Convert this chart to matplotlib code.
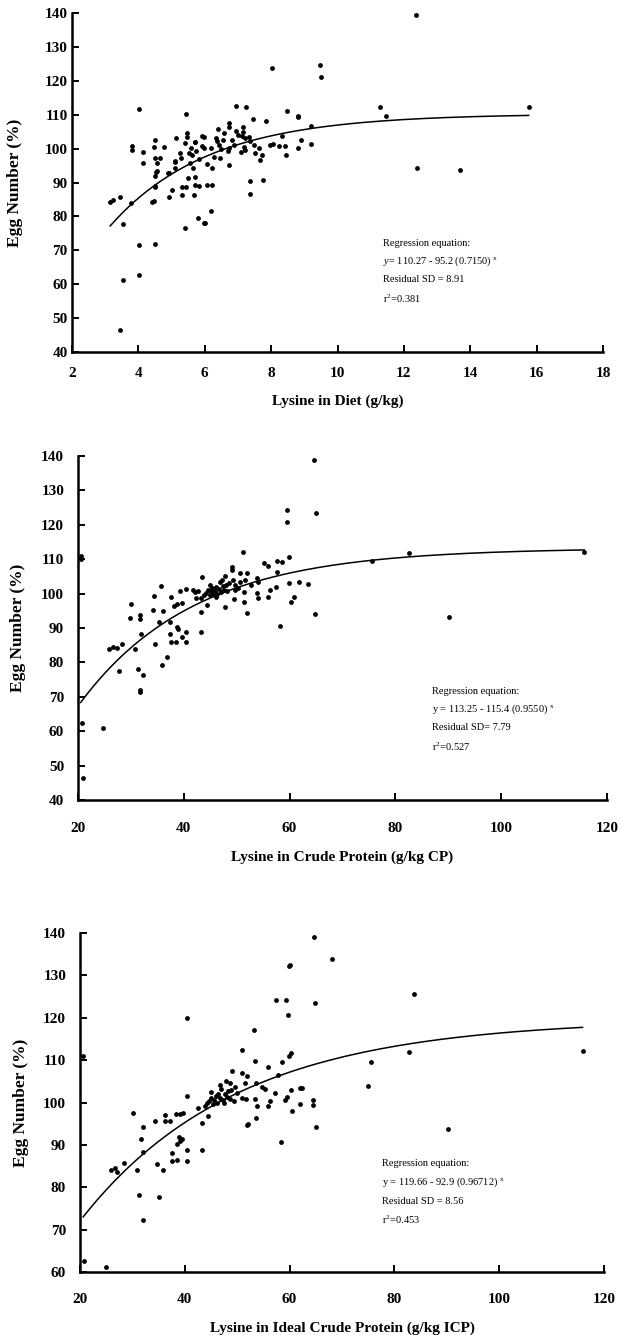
import numpy as np
import matplotlib
matplotlib.use("Agg")
import matplotlib.pyplot as plt

plt.rcParams['font.family'] = ['Liberation Serif', 'DejaVu Serif']
plt.rcParams['mathtext.fontset'] = 'custom'
plt.rcParams['mathtext.rm'] = 'Liberation Serif'
plt.rcParams['mathtext.it'] = 'Liberation Serif:italic'

# lysine in diet (g/kg) vs egg number (%)
diet_pts = np.array([
    (3.15, 84.3), (3.25, 84.8), (3.46, 85.8), (3.53, 77.7), (3.53, 61.2), (3.44, 46.4),
    (3.78, 84.1), (3.82, 100.8), (3.82, 99.6), (4.02, 111.6), (4.15, 98.9), (4.15, 95.7),
    (4.03, 71.5), (4.03, 62.7), (4.41, 84.3), (4.50, 102.6), (4.47, 100.6), (4.50, 97.1),
    (4.55, 95.7), (4.52, 93.2), (4.50, 91.9), (4.50, 88.8), (4.50, 72.0), (4.77, 100.6),
    (4.89, 92.9), (4.91, 85.8), (5.01, 87.8), (5.09, 96.0), (5.14, 103.1), (5.24, 98.6),
    (5.27, 97.1), (5.30, 88.6), (5.30, 86.3), (5.40, 76.5), (5.44, 110.1), (5.46, 104.5),
    (5.46, 103.5), (5.39, 101.6), (5.50, 91.2), (5.54, 98.6), (5.59, 100.1), (5.56, 95.7),
    (5.63, 98.1), (5.71, 101.8), (5.71, 91.7), (5.71, 89.3), (5.69, 86.3), (5.75, 99.4),
    (5.80, 79.4), (5.83, 96.8), (5.91, 100.8), (5.93, 103.7), (5.97, 100.1), (5.97, 78.2),
    (6.07, 95.5), (6.07, 89.3), (6.18, 81.7), (6.18, 100.3), (6.28, 97.6), (6.35, 103.1),
    (6.38, 102.1), (6.43, 101.1), (6.48, 99.8), (6.45, 97.1), (6.40, 105.7), (6.54, 102.6),
    (6.57, 104.5), (6.72, 100.3), (6.69, 99.4), (6.74, 95.2), (6.72, 107.5), (6.72, 106.5),
    (6.82, 102.6), (6.87, 101.1), (6.95, 112.6), (6.94, 105.2), (6.99, 104.0), (7.15, 106.5),
    (7.15, 105.0), (7.12, 103.7), (7.20, 103.1), (7.17, 100.6), (7.10, 99.1), (7.24, 112.4),
    (7.22, 99.6), (7.34, 103.5), (7.37, 102.1), (7.35, 90.4), (7.35, 86.5), (7.44, 108.7),
    (7.47, 101.1), (7.52, 98.8), (7.63, 100.1), (7.67, 96.5), (7.74, 98.1), (7.77, 90.7),
    (7.85, 108.2), (7.97, 101.1), (8.05, 101.3), (8.04, 123.9), (8.24, 100.9), (8.33, 103.7),
    (8.43, 100.9), (8.46, 98.1), (8.48, 111.1), (8.80, 109.7), (8.82, 109.3), (8.82, 100.3),
    (8.90, 102.6), (9.21, 101.4), (9.21, 106.8), (9.46, 124.7), (9.50, 121.1), (11.27, 112.2),
    (11.47, 109.7), (12.37, 139.3), (12.39, 94.4), (13.68, 93.7), (15.76, 112.4),
    (5.97, 103.5), (5.72, 101.8), (4.66, 97.3), (4.91, 92.7), (5.11, 94.4), (5.11, 96.2),
    (6.22, 94.3), (5.66, 94.3), (5.44, 88.7), (5.84, 88.9), (6.22, 89.2), (4.46, 84.5),
    (6.02, 78.1), (4.51, 89.1), (4.56, 93.4),
])

# lysine in crude protein (g/kg CP)
cp_pts = np.array([
    (20.6, 110.9), (20.5, 110.2), (20.8, 62.3), (21.0, 46.3), (24.8, 61.0), (25.9, 83.8),
    (26.7, 84.6), (27.3, 84.1), (27.7, 77.6), (28.4, 85.3), (29.8, 92.8), (30.1, 97.0),
    (30.8, 83.8), (31.4, 78.0), (31.7, 93.8), (31.8, 92.5), (31.7, 72.0), (31.8, 71.5),
    (31.9, 88.3), (32.2, 76.3), (34.2, 95.2), (34.4, 99.3), (34.6, 85.3), (35.3, 91.6),
    (35.7, 102.2), (36.0, 95.0), (35.8, 79.1), (36.9, 81.5), (37.3, 91.6), (37.5, 99.1),
    (37.4, 88.2), (37.5, 86.0), (38.2, 96.4), (38.8, 97.0), (39.6, 97.2), (38.5, 86.0),
    (38.7, 90.4), (38.9, 89.6), (39.3, 100.9), (39.6, 87.5), (40.4, 101.2), (40.4, 88.9),
    (40.4, 86.0), (41.8, 101.0), (42.2, 100.6), (42.7, 100.8), (42.4, 98.6), (43.4, 104.9),
    (43.2, 94.7), (44.3, 96.7), (43.2, 88.9), (43.3, 98.6), (43.8, 99.5), (44.2, 100.2),
    (44.6, 101.0), (44.9, 99.6), (45.1, 100.8), (45.4, 101.6), (45.6, 100.0), (45.9, 100.9),
    (46.1, 102.0), (46.3, 99.8), (46.6, 101.2), (46.8, 103.5), (47.0, 100.4), (47.2, 104.0),
    (47.4, 102.1), (47.6, 101.0), (47.9, 102.6), (48.2, 100.9), (46.0, 99.0), (45.0, 102.4),
    (47.7, 96.0), (47.8, 105.1), (49.1, 107.8), (49.1, 106.9), (49.4, 98.3), (49.3, 104.0),
    (49.6, 102.5), (49.7, 101.0), (48.6, 103.2), (50.6, 106.1), (51.9, 106.1), (51.1, 112.2),
    (50.6, 103.5), (51.5, 104.0), (51.3, 100.6), (51.3, 97.6), (52.0, 94.4), (52.7, 102.5),
    (50.2, 101.5), (53.8, 104.4), (54.1, 103.5), (53.8, 100.1), (54.1, 98.6), (55.2, 108.8),
    (56.0, 108.0), (56.3, 101.0), (55.9, 98.9), (57.4, 101.8), (57.7, 109.6), (58.5, 109.3),
    (57.7, 106.4), (58.2, 90.6), (59.6, 124.3), (59.6, 120.7), (59.8, 110.7), (59.8, 103.2),
    (60.2, 97.6), (60.8, 99.1), (61.8, 103.5), (63.5, 102.7), (64.8, 94.0), (65.0, 123.5),
    (64.6, 138.8), (75.5, 109.5), (82.6, 111.7), (90.1, 93.1), (115.7, 112.0),
])

# lysine in ideal crude protein (g/kg ICP)
icp_pts = np.array([
    (20.6, 111.0), (20.8, 62.7), (24.9, 61.2), (26.0, 84.1), (26.7, 84.5), (27.1, 83.7),
    (28.4, 85.7), (30.2, 97.5), (30.9, 84.1), (31.3, 78.2), (31.6, 91.3), (32.0, 94.3),
    (32.0, 88.4), (32.0, 72.3), (34.3, 95.7), (34.6, 85.4), (35.1, 77.6), (35.9, 84.1),
    (36.2, 97.1), (36.2, 95.7), (37.2, 95.7), (37.5, 88.1), (37.6, 86.2), (38.4, 97.2),
    (39.1, 97.3), (39.6, 97.5), (38.6, 86.4), (38.6, 90.2), (38.9, 91.9), (39.4, 91.4),
    (39.1, 90.8), (40.4, 120.0), (40.4, 101.5), (40.5, 88.8), (40.5, 86.2), (42.6, 98.6),
    (43.2, 95.1), (43.3, 88.8), (43.9, 99.2), (44.5, 96.8), (44.2, 99.8), (44.6, 100.4),
    (45.0, 101.0), (45.3, 99.6), (45.6, 100.6), (45.0, 102.4), (45.9, 101.5), (46.2, 100.0),
    (46.4, 102.0), (46.7, 101.0), (46.8, 104.1), (47.0, 103.3), (47.7, 102.1), (48.0, 101.4),
    (47.2, 100.6), (47.4, 99.8), (48.3, 102.8), (48.6, 104.6), (48.9, 103.0), (49.1, 107.5),
    (49.3, 100.4), (49.5, 103.7), (49.9, 102.2), (47.9, 105.0), (48.6, 100.8), (51.0, 112.4),
    (50.9, 106.9), (51.9, 106.3), (51.0, 101.0), (51.6, 100.8), (51.4, 104.5), (51.9, 94.7),
    (53.2, 117.1), (53.4, 109.7), (53.6, 104.7), (53.4, 100.8), (53.8, 99.2), (53.6, 96.4),
    (54.7, 103.7), (55.3, 103.3), (55.9, 108.4), (55.9, 99.2), (56.2, 100.4), (57.2, 102.2),
    (57.4, 124.1), (57.7, 106.5), (58.4, 90.6), (58.5, 109.6), (59.1, 100.6), (59.5, 101.4),
    (59.4, 124.3), (59.6, 120.6), (59.9, 132.2), (60.1, 132.5), (59.9, 111.0), (60.2, 111.6),
    (60.3, 103.0), (60.5, 98.1), (62.0, 103.5), (62.4, 103.5), (61.9, 99.6), (64.5, 100.6),
    (64.5, 99.3), (64.7, 139.1), (64.8, 123.5), (65.0, 94.3), (68.0, 133.9), (83.7, 125.5),
    (82.7, 112.0), (75.5, 109.6), (75.0, 103.9), (115.9, 112.2), (90.3, 93.7), (52.0, 94.9),
])

# y = a - b * c^x
diet_coef = (110.27, 95.2, 0.7150)
cp_coef = (113.25, 115.4, 0.9550)
icp_coef = (119.66, 92.9, 0.96712)

diet_text = ["Regression equation:", r"$y$= 110.27 - 95.2 (0.7150) $^{\mathrm{x}}$",
             "Residual SD = 8.91", r"r$^{2}$=0.381"]
cp_text = ["Regression equation:", r"y = 113.25 - 115.4 (0.9550) $^{\mathrm{x}}$",
           "Residual SD= 7.79", r"r$^{2}$=0.527"]
icp_text = ["Regression equation:", r"y = 119.66 - 92.9 (0.96712) $^{\mathrm{x}}$",
            "Residual SD = 8.56", r"r$^{2}$=0.453"]

W, H = 622, 1335
fig = plt.figure(figsize=(W / 100, H / 100), dpi=100)


def box(l, r, t, b):
    return [l / W, 1 - b / H, (r - l) / W, (b - t) / H]


def panel(rect, pts, coef, xlim, xticks, ylim, yticks, xlabel, lines, tx, ty,
          ypad, xpad, ylab_x, xlab_y):
    ax = fig.add_axes(rect)
    ax.scatter(pts[:, 0], pts[:, 1], s=12, color='black', linewidths=0, zorder=3)
    a, b, c = coef
    xs = np.linspace(pts[:, 0].min(), pts[:, 0].max(), 200)
    ax.plot(xs, a - b * c ** xs, color='black', lw=1.1)
    ax.set_xlim(*xlim)
    ax.set_ylim(*ylim)
    ax.set_xticks(xticks)
    ax.set_yticks(yticks)
    for s in ('top', 'right'):
        ax.spines[s].set_visible(False)
    for s in ('left', 'bottom'):
        ax.spines[s].set_linewidth(1.8)
    ax.tick_params(axis='both', direction='in', length=5, width=1.4, labelsize=11)
    ax.tick_params(axis='y', pad=ypad)
    ax.tick_params(axis='x', pad=xpad)
    for lab in ax.get_xticklabels() + ax.get_yticklabels():
        lab.set_fontweight('bold')
    ax.set_xlabel(xlabel, fontsize=11, fontweight='bold')
    ax.set_ylabel("Egg Number (%)", fontsize=12.5, fontweight='bold')
    ax.yaxis.set_label_coords(ylab_x, 0.5)
    ax.xaxis.set_label_coords(0.5, xlab_y)
    for i, s in enumerate(lines):
        fig.text(tx / W, 1 - (ty + i * 18.5) / H, s, fontsize=7.5, va='center', ha='left')
    return ax


panel(box(72, 603, 13, 352), diet_pts, diet_coef, (2, 18), np.arange(2, 19, 2),
      (40, 140), np.arange(40, 141, 10), "Lysine in Diet (g/kg)", diet_text, 383, 243,
      3, 11, -0.092, -0.125)
panel(box(78, 607, 456, 800), cp_pts, cp_coef, (20, 120), np.arange(20, 121, 20),
      (40, 140), np.arange(40, 141, 10), "Lysine in Crude Protein (g/kg CP)", cp_text, 432, 691,
      10, 16, -0.098, -0.147)
panel(box(80, 604, 933, 1272), icp_pts, icp_coef, (20, 120), np.arange(20, 121, 20),
      (60, 140), np.arange(60, 141, 10), "Lysine in Ideal Crude Protein (g/kg ICP)", icp_text,
      382, 1164, 10, 15, -0.098, -0.145)

fig.savefig("out.png", dpi=100)
